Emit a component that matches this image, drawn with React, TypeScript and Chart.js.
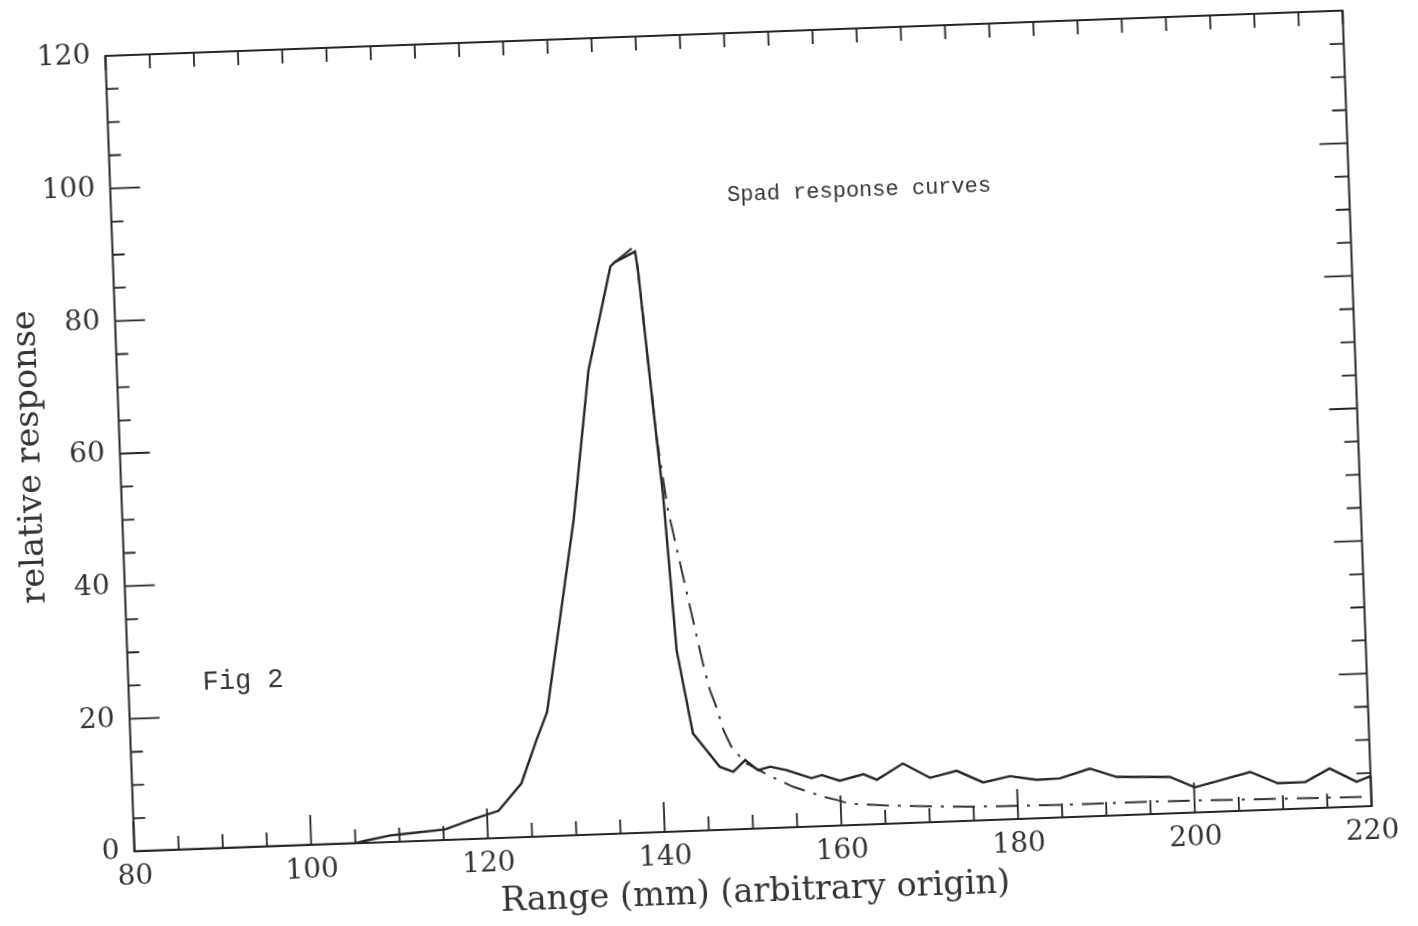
import React, { useEffect, useRef } from "react";
import { Chart, registerables } from "chart.js";

Chart.register(...registerables);

// Solid curve (range mm, relative response)
const solidX = [80, 105, 106, 109, 110, 115.2, 118.4, 121.3, 124.0, 125.9, 127.2, 131.0, 133.3, 136.2, 136.7, 139.05, 139.3, 140.0, 140.7, 141.2, 142.1, 143.6, 146.5, 148.0, 149.4, 150.8, 152.2, 154.0, 156.8, 158.0, 160.0, 162.7, 164.2, 167.2, 170.2, 173.25, 176.2, 179.25, 182.25, 184.9, 188.3, 191.3, 197.3, 200.1, 206.4, 209.5, 212.6, 215.4, 218.4, 220];
const solidY = [0, 0, 0.3, 1.0, 1.1, 1.6, 3.0, 4.1, 8.1, 14.6, 18.7, 47.5, 70.0, 85.5, 86.1, 87.6, 84.8, 72.2, 59.6, 51.0, 27.3, 14.7, 9.5, 8.7, 10.4, 8.8, 9.25, 8.66, 7.3, 7.7, 6.75, 7.6, 6.7, 9.0, 6.7, 7.6, 5.7, 6.5, 5.8, 5.9, 7.2, 5.8, 5.5, 3.8, 5.8, 3.95, 4.0, 5.9, 3.75, 4.5];

// Dash-dot curve
const dashX = [136.7, 139.0, 139.3, 140.0, 140.7, 141.7, 145.05, 145.7, 146.4, 147.05, 148.0, 149.55, 151.9, 154.7, 156.4, 158.05, 159.6, 161.1, 165, 170, 175, 180, 185, 190, 195, 200, 205, 210, 215, 220];
const dashY = [86.1, 88.4, 84.8, 72.2, 59.6, 48.5, 24.9, 21.1, 18.35, 15.04, 12.13, 9.89, 8.0, 6.1, 5.27, 4.43, 3.86, 3.2, 2.8, 2.4, 2.1, 2.0, 1.9, 1.9, 1.9, 1.8, 1.7, 1.6, 1.5, 1.4];

const xTickValues = [80, 100, 120, 140, 160, 180, 200, 220];
const yTickValues = [0, 20, 40, 60, 80, 100, 120];

const xTitle = "Range (mm) (arbitrary origin)";
const yTitle = "relative response";
const plotTitle = "Spad response curves";
const figLabel = "Fig 2";

const INK = "#262626";

const framePlugin = {
  id: "frameTicks",
  afterDatasetsDraw(chart: any) {
    const { ctx, chartArea: a } = chart;
    const x = chart.scales.x;
    const y = chart.scales.y;
    ctx.save();
    ctx.strokeStyle = INK;
    ctx.lineWidth = 2;
    ctx.strokeRect(a.left, a.top, a.right - a.left, a.bottom - a.top);
    ctx.lineWidth = 1.8;
    ctx.beginPath();
    for (let v = 80; v <= 220; v += 5) {
      const p = x.getPixelForValue(v);
      const major = v % 20 === 0;
      ctx.moveTo(p, a.bottom);
      ctx.lineTo(p, a.bottom - (major ? 30 : 14));
      ctx.moveTo(p, a.top);
      ctx.lineTo(p, a.top + 14);
    }
    for (let v = 0; v <= 120; v += 5) {
      const p = y.getPixelForValue(v);
      const major = v % 20 === 0;
      ctx.moveTo(a.left, p);
      ctx.lineTo(a.left + (major ? 30 : 12), p);
      ctx.moveTo(a.right, p);
      ctx.lineTo(a.right - (major ? 28 : 14), p);
    }
    ctx.stroke();

    ctx.fillStyle = "#333";
    ctx.textBaseline = "middle";
    ctx.textAlign = "left";
    ctx.font = '22px "Liberation Mono"';
    ctx.fillText(plotTitle, x.getPixelForValue(149.7), y.getPixelForValue(95.6));
    ctx.font = '27px "Liberation Mono"';
    ctx.fillText(figLabel, x.getPixelForValue(88.4), y.getPixelForValue(25));
    ctx.restore();
  },
};

export default function App() {
  const ref = useRef<HTMLCanvasElement | null>(null);

  useEffect(() => {
    if (!ref.current) return;
    const chart = new Chart(ref.current, {
      type: "line",
      data: {
        datasets: [
          {
            label: "solid",
            data: solidX.map((v, i) => ({ x: v, y: solidY[i] })),
            borderColor: INK,
            borderWidth: 2.4,
            pointRadius: 0,
            tension: 0,
            fill: false,
          },
          {
            label: "dash-dot",
            data: dashX.map((v, i) => ({ x: v, y: dashY[i] })),
            borderColor: "#333",
            borderWidth: 2,
            borderDash: [22, 9, 3, 9],
            pointRadius: 0,
            tension: 0,
            fill: false,
          },
        ],
      },
      options: {
        responsive: false,
        animation: false,
        layout: { padding: { left: 0, top: 33, right: 60.5, bottom: 0 } },
        plugins: { legend: { display: false }, tooltip: { enabled: false } },
        scales: {
          x: {
            type: "linear",
            min: 80,
            max: 220,
            afterBuildTicks: (s: any) => {
              s.ticks = xTickValues.map((v) => ({ value: v }));
            },
            afterFit: (s: any) => {
              s.height = 97;
            },
            grid: { display: false, drawTicks: false },
            border: { display: false },
            ticks: {
              padding: 9,
              color: "#333",
              font: { family: "DejaVu Serif", size: 28 },
              maxRotation: 0,
              autoSkip: false,
            },
            title: {
              display: true,
              text: xTitle,
              color: "#333",
              font: { family: "DejaVu Serif", size: 33.5 },
              padding: { top: 0, bottom: 13 },
            },
          },
          y: {
            type: "linear",
            min: 0,
            max: 120,
            afterBuildTicks: (s: any) => {
              s.ticks = yTickValues.map((v) => ({ value: v }));
            },
            afterFit: (s: any) => {
              s.width = 119.5;
            },
            grid: { display: false, drawTicks: false },
            border: { display: false },
            ticks: {
              padding: 15,
              color: "#333",
              font: { family: "DejaVu Serif", size: 28 },
              autoSkip: false,
            },
            title: {
              display: true,
              text: yTitle,
              color: "#333",
              font: { family: "DejaVu Serif", size: 33.5 },
              padding: { top: 10, bottom: 0 },
            },
          },
        },
      },
      plugins: [framePlugin],
    });
    return () => chart.destroy();
  }, []);

  return (
    <div style={{ position: "fixed", left: 0, top: 0, width: 1418, height: 926, overflow: "hidden", background: "#fff" }}>
      <div
        style={{
          position: "absolute",
          left: 0,
          top: 0,
          width: 1418,
          height: 926,
          transform: "rotate(-2.1deg)",
          transformOrigin: "738.5px 431px",
        }}
      >
        <canvas ref={ref} width={1418} height={926} style={{ display: "block" }} />
      </div>
    </div>
  );
}
